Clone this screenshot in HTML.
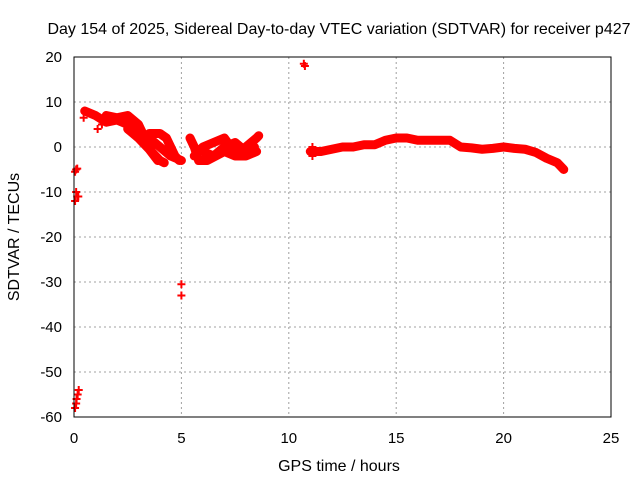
<!DOCTYPE html>
<html><head><meta charset="utf-8"><style>
body{margin:0;background:#fff}
svg{display:block;font-family:"Liberation Sans",sans-serif}
</style></head><body>
<svg id="chart" width="640" height="480" viewBox="0 0 640 480">
<text x="339" y="34" text-anchor="middle" font-size="16">Day 154 of 2025, Sidereal Day-to-day VTEC variation (SDTVAR) for receiver p427</text>
<g id="grid"></g>
<g id="ticks"></g>
<g id="marks"></g>
<rect x="74" y="57" width="537" height="360" fill="none" stroke="#000" stroke-width="1"/>
<text x="339" y="471" text-anchor="middle" font-size="16">GPS time / hours</text>
<text x="19" y="237" text-anchor="middle" font-size="16" transform="rotate(-90 19 237)">SDTVAR / TECUs</text>
</svg>
<script>
const xTicks=[0,5,10,15,20,25];
const yTicks=[20,10,0,-10,-20,-30,-40,-50,-60];
const trackA=[[0.5,8],[1.0,7],[1.5,5.5],[2.0,6],[2.5,5],[3.0,3.5],[3.5,2],[4.0,0],[4.5,-2],[5.0,-3]];
const trackB=[[1.5,7],[2.0,6.5],[2.5,7],[3.0,5],[3.3,2],[3.6,-1],[4.0,-3],[4.2,-3.5]];
const trackC=[[3.5,3],[4.0,3],[4.3,2],[4.5,0],[4.7,-2],[4.9,-3]];
const trackD=[[2.5,4],[3.0,2],[3.5,-0.5],[3.9,-3]];
const trackE=[[5.4,2],[5.6,0],[5.8,-3],[6.2,-3],[6.6,-2],[7.0,-1],[7.5,-2],[8.0,-2],[8.5,-1]];
const trackF=[[5.6,-2],[6.0,0],[6.5,1],[7.0,2],[7.3,0],[7.6,-2],[8.0,0],[8.5,2],[8.6,2.5]];
const trackG=[[6.0,-1],[6.5,-2],[7.0,0],[7.5,1],[8.0,-1],[8.4,0]];
const trackH=[[11.0,-1],[11.5,-1],[12,-0.5],[12.5,0],[13,0],[13.5,0.5],[14,0.5],[14.5,1.5],[15,2],[15.5,2],[16,1.5],[16.5,1.5],[17,1.5],[17.5,1.5],[18,0],[18.5,-0.2],[19,-0.5],[19.5,-0.3],[20,0],[20.5,-0.3],[21,-0.5],[21.5,-1.2],[22,-2.5],[22.5,-3.5],[22.8,-5]];
const tracks=[trackA,trackB,trackC,trackD,trackE,trackF,trackG,trackH];
const scatter=[[0.05,-5.5],[0.1,-5],[0.15,-4.8],[0.05,-12],[0.1,-10],[0.15,-11],[0.2,-11],[0.05,-58],[0.1,-57],[0.12,-56],[0.17,-55],[0.22,-54],[5,-30.5],[5,-33],[10.7,18.5],[10.75,18],[11.1,0],[11.1,-2],[1.1,4],[1.3,5],[0.45,6.5]];
const NS="http://www.w3.org/2000/svg";
const X=v=>74+v*537/25, Y=v=>57+(20-v)*360/80;
function mk(tag,at,parent){const e=document.createElementNS(NS,tag);for(const k in at)e.setAttribute(k,at[k]);parent.appendChild(e);return e;}
const grid=document.getElementById('grid'),ticks=document.getElementById('ticks'),marks=document.getElementById('marks');
xTicks.forEach(t=>{
 if(t>0&&t<25){const l=mk('line',{x1:X(t),x2:X(t),y1:57,y2:417,stroke:'#a0a0a0','stroke-dasharray':'2,3'},grid);
 }
 const s=mk('text',{x:X(t),y:443,'text-anchor':'middle','font-size':15},ticks);s.textContent=t;
 
});
yTicks.forEach(t=>{
 if(t<20&&t>-60){const l=mk('line',{x1:74,x2:611,y1:Y(t),y2:Y(t),stroke:'#a0a0a0','stroke-dasharray':'2,3'},grid);
 }
 const s=mk('text',{x:62,y:Y(t)+5,'text-anchor':'end','font-size':15},ticks);s.textContent=t;
 
});
tracks.forEach(tr=>{
 const p=mk('polyline',{points:tr.map(d=>X(d[0])+','+Y(d[1])).join(' '),fill:'none',stroke:'#f00','stroke-width':9,'stroke-linejoin':'round','stroke-linecap':'round'},marks);
 
});
scatter.forEach(d=>{
 const x=X(d[0]),y=Y(d[1]);
 const p=mk('path',{d:`M${x-4},${y}H${x+4}M${x},${y-4}V${y+4}`,stroke:'#f00','stroke-width':2},marks);
 
});
</script>
</body></html>
